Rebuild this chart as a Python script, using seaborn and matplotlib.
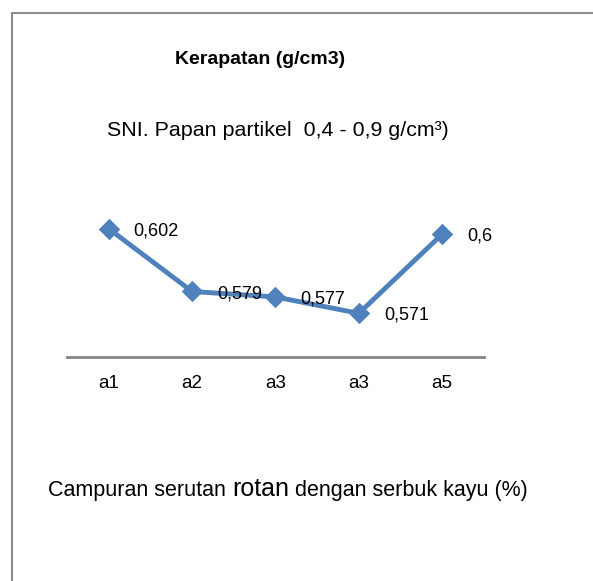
"""Kerapatan papan partikel per perlakuan (line chart with data labels)."""

import matplotlib.pyplot as plt
import numpy as np
import seaborn as sns
from matplotlib.offsetbox import AnnotationBbox, HPacker, TextArea
from matplotlib.patches import Rectangle

categories = ["a1", "a2", "a3", "a3", "a5"]
density = [0.602, 0.579, 0.577, 0.571, 0.6]
density_labels = ["0,602", "0,579", "0,577", "0,571", "0,6"]

title = "Kerapatan (g/cm3)"
subtitle = "SNI. Papan partikel  0,4 - 0,9 g/cm³)"
xlabel_parts = ["Campuran serutan ", "rotan", " dengan serbuk kayu (%)"]

sns.set_style("white")
plt.rcParams["font.family"] = ["Liberation Sans", "DejaVu Sans"]
plt.rcParams["text.color"] = "black"
plt.rcParams["xtick.color"] = "black"

line_color = "#4F81BD"
axis_color = "#868686"

fig = plt.figure(figsize=(5.93, 5.81), dpi=100)
ax = fig.add_axes([0.113, 0.3855, 0.703, 0.2585])

# categories repeat ("a3" twice), so plot against positions and relabel
pos = np.arange(len(density))
sns.lineplot(x=pos, y=density, ax=ax, color=line_color, lw=3.5,
             marker="D", markersize=10, markeredgecolor=line_color)

for x, y, lab in zip(pos, density, density_labels):
    ax.annotate(lab, (x, y), xytext=(18, -1.5), textcoords="offset points",
                ha="left", va="center", fontsize=13, color="black")

ax.set_xlim(-0.5, len(density) - 0.5)
ax.set_ylim(0.555, 0.61)
ax.set_xticks(pos)
ax.set_xticklabels(categories, fontsize=13.5, color="black")
ax.tick_params(axis="x", length=0, pad=13)
ax.set_yticks([])
for side in ["top", "left", "right"]:
    ax.spines[side].set_visible(False)
ax.spines["bottom"].set_color(axis_color)
ax.spines["bottom"].set_linewidth(2)
ax.patch.set_alpha(0)

# chart frame (runs off the right and bottom edges)
fig.patches.append(Rectangle((12 / 593, -0.1), 1.2, 1 - 13 / 581 + 0.1,
                             transform=fig.transFigure, fill=False,
                             edgecolor="#8c8c8c", lw=1.5))

fig.text(260 / 593, 1 - 60 / 581, title, ha="center", va="center",
         fontsize=14, fontweight="bold", color="black")
fig.text(278 / 593, 1 - 130 / 581, subtitle, ha="center", va="center",
         fontsize=15.4, color="black")

sizes = [15.5, 18, 15.5]
parts = [TextArea(t, textprops=dict(fontsize=s, color="black"))
         for t, s in zip(xlabel_parts, sizes)]
box = HPacker(children=parts, align="baseline", pad=0, sep=0)
fig.add_artist(AnnotationBbox(box, (288 / 593, 1 - 489 / 581), xycoords="figure fraction",
                              frameon=False, box_alignment=(0.5, 0.5)))

fig.savefig("out.png", dpi=100)
